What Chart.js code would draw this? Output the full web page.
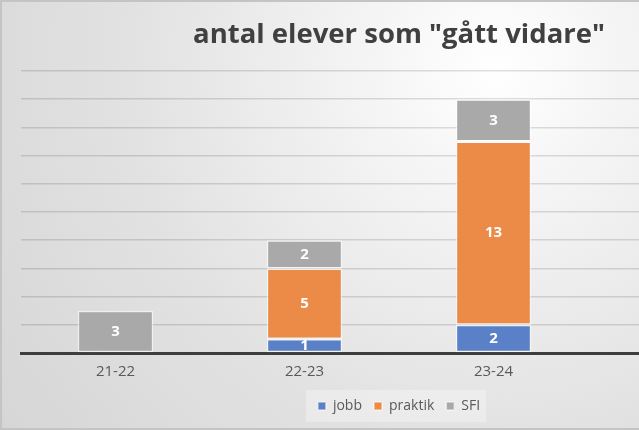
<!DOCTYPE html>
<html>
<head>
<meta charset="utf-8">
<script src="https://cdn.jsdelivr.net/npm/chart.js@4"></script>
<style>
  html, body { margin: 0; padding: 0; overflow: hidden; }
  #wrap {
    width: 800px; height: 430px; box-sizing: border-box;
    border: 2px solid #c4c4c4;
    background: radial-gradient(circle farthest-corner at 62% 16%, #ffffff 0%, #f4f4f4 22%, #e2e2e2 60%, #d6d6d6 100%);
  }
</style>
</head>
<body>
<div id="wrap"><canvas id="myChart"></canvas></div>
<script>
// chart data
const years = ['21-22', '22-23', '23-24', '']
const jobb = [null, 1, 2, null]
const praktik = [null, 5, 13, null]
const sfi = [3, 2, 3, null]

// white numbers in the middle of each bar piece
const barLabels = {
  id: 'barLabels',
  afterDatasetsDraw(chart) {
    const ctx = chart.ctx
    ctx.save()
    ctx.fillStyle = '#ffffff'
    ctx.font = 'bold 15px "Open Sans"'
    ctx.textAlign = 'center'
    ctx.textBaseline = 'middle'
    chart.data.datasets.forEach((ds, i) => {
      chart.getDatasetMeta(i).data.forEach((bar, j) => {
        let v = ds.data[j]
        if (!v) return
        ctx.fillText(v, bar.x, (bar.y + bar.base) / 2)
      })
    })
    ctx.restore()
  }
}

// faint box behind the legend, like in excel
const legendBox = {
  id: 'legendBox',
  beforeDraw(chart) {
    const boxes = chart.legend.legendHitBoxes
    if (!boxes || !boxes.length) return
    let l = boxes[0].left - 12
    let last = boxes[boxes.length - 1]
    let r = last.left + last.width + 6
    let t = boxes[0].top - 9
    let ctx = chart.ctx
    ctx.save()
    ctx.fillStyle = 'rgba(255,255,255,0.3)'
    ctx.fillRect(l, t, r - l, boxes[0].height + 18)
    ctx.restore()
  }
}

const ctx = document.getElementById('myChart')

new Chart(ctx, {
  type: 'bar',
  data: {
    labels: years,
    datasets: [
      { label: 'jobb', data: jobb, backgroundColor: '#5a80c8' },
      { label: 'praktik', data: praktik, backgroundColor: '#ec8a48' },
      { label: 'SFI', data: sfi, backgroundColor: '#a9a9a9' }
    ]
  },
  options: {
    responsive: true,
    maintainAspectRatio: false,
    animation: false,
    devicePixelRatio: 1,
    datasets: {
      bar: {
        categoryPercentage: 1,
        barPercentage: 0.4,
        borderColor: 'rgba(255,255,255,0.55)',
        borderWidth: 1.5,
        borderSkipped: false
      }
    },
    layout: { padding: { left: 19, right: 21, top: 0, bottom: 5 } },
    scales: {
      x: {
        stacked: true,
        grid: { display: false, drawTicks: false },
        border: { color: '#3d3d3d', width: 3 },
        ticks: { color: '#595959', font: { family: '"Open Sans"', size: 15 }, padding: 10 },
        afterFit(scale) { scale.height = 34 }
      },
      y: {
        stacked: true,
        min: 0,
        max: 20,
        ticks: { display: false, stepSize: 2 },
        grid: { color: 'rgba(0,0,0,0.13)', lineWidth: 1.5, drawTicks: false },
        border: { display: false }
      }
    },
    plugins: {
      title: {
        display: true,
        text: 'antal elever som "gått vidare"',
        color: '#404040',
        font: { family: '"Open Sans"', size: 27.5, weight: 'bold' },
        padding: { top: 17, bottom: 19 }
      },
      legend: {
        position: 'bottom',
        labels: {
          color: '#595959',
          font: { family: '"Open Sans"', size: 14 },
          boxWidth: 8,
          boxHeight: 8,
          padding: 12
        }
      },
      tooltip: { enabled: false }
    }
  },
  plugins: [barLabels, legendBox]
})
</script>
</body>
</html>
